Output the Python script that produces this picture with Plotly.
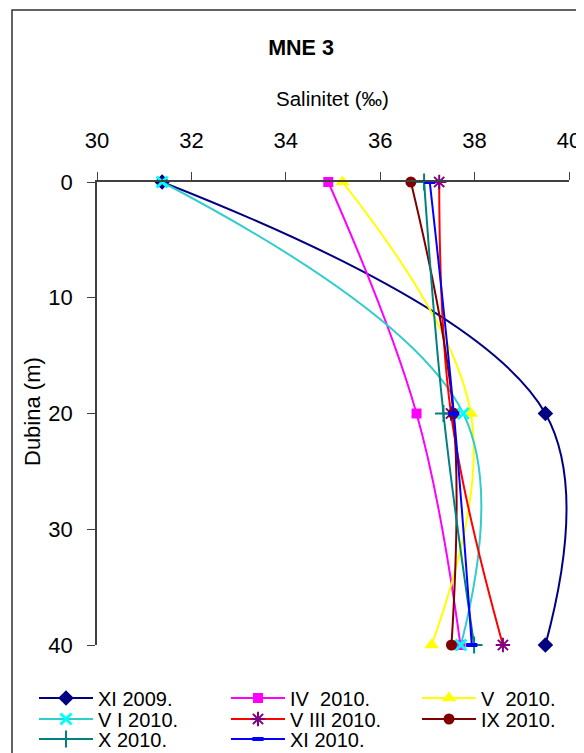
import plotly.graph_objects as go

depths = [0, 20, 40]

series_names = ["XI 2009.", "IV  2010.", "V  2010.", "V I 2010.", "V III 2010.", "IX 2010.", "X 2010.", "XI 2010."]
sal_xi_2009 = [31.38, 39.5, 39.5]
sal_iv_2010 = [34.9, 36.77, 37.7]
sal_v_2010 = [35.2, 37.92, 37.09]
sal_vi_2010 = [31.38, 37.76, 37.71]
sal_viii_2010 = [37.25, 37.5, 38.6]
sal_ix_2010 = [36.65, 37.55, 37.51]
sal_x_2010 = [36.93, 37.34, 37.99]
sal_xi_2010 = [37.05, 37.56, 37.94]

styles = [
    (sal_xi_2009, "#000080", dict(symbol="diamond", size=12, color="#000080")),
    (sal_iv_2010, "#FF00FF", dict(symbol="square", size=10, color="#FF00FF")),
    (sal_v_2010, "#FFFF00", dict(symbol="triangle-up", size=13, color="#FFFF00")),
    (sal_vi_2010, "#33CCCC", dict(symbol="x-thin", size=11, color="#00FFFF", line=dict(color="#00FFFF", width=3))),
    (sal_viii_2010, "#FF0000", dict(symbol="asterisk", size=12, color="#800080", line=dict(color="#800080", width=2))),
    (sal_ix_2010, "#800000", dict(symbol="circle", size=11, color="#800000")),
    (sal_x_2010, "#008080", dict(symbol="cross-thin", size=12, color="#008080", line=dict(color="#008080", width=2))),
    (sal_xi_2010, "#0000FF", dict(symbol="line-ew", size=8, color="#0000FF", line=dict(color="#0000FF", width=4))),
]

W, H = 584, 753
OFF = 8  # page body margin offset
# plot area target in window pixels: x 97..569, y 181.5..645
L = 97 - OFF
R = W - (569 - OFF)
T = round(181.5 - OFF)
B = H - (645 - OFF)
pw = W - L - R
ph = H - T - B

def px_x(p):
    return (p - OFF - L) / pw

def px_y(p):
    return (H - B - (p - OFF)) / ph

# legend grid: 3 columns, rows of 3/3/2
col_x = [34, 226, 417]
row_y = [698, 719, 739]

fig = go.Figure()
legends = {}
for i, (name, (vals, lc, mk)) in enumerate(zip(series_names, styles)):
    key = "legend" if i == 0 else f"legend{i + 1}"
    fig.add_trace(go.Scatter(
        x=vals, y=depths, name=name, mode="lines+markers",
        line=dict(color=lc, width=2, shape="spline", smoothing=1.1),
        marker=mk, cliponaxis=False, legend=key,
    ))
    r, c = divmod(i, 3)
    legends[key] = dict(
        orientation="h", x=px_x(col_x[c]), y=px_y(row_y[r]),
        xanchor="left", yanchor="middle", font=dict(size=20, color="black"),
        bgcolor="rgba(0,0,0,0)", itemwidth=54,
    )

fig.update_layout(
    width=W, height=H,
    margin=dict(l=L, r=R, t=T, b=B, autoexpand=False),
    paper_bgcolor="white", plot_bgcolor="white",
    font=dict(family="Liberation Sans, Arial, sans-serif", color="black", size=17),
    title=dict(text="<b>MNE 3</b>", x=(301 - OFF) / W, y=1 - (47 - OFF) / H,
               xanchor="center", yanchor="middle", font=dict(size=21.5)),
    xaxis=dict(side="top", range=[30, 40], dtick=2, tick0=30, ticks="outside", ticklen=8,
               tickcolor="#404040", showline=True, linecolor="#404040", linewidth=1.5,
               showgrid=False, zeroline=False, tickfont=dict(size=22), ticklabelstandoff=15),
    yaxis=dict(range=[40, 0], dtick=10, tick0=0, ticks="outside", ticklen=8,
               tickcolor="#404040", showline=True, linecolor="#404040", linewidth=1.5,
               showgrid=False, zeroline=False, tickfont=dict(size=22), ticklabelstandoff=10),
    annotations=[
        dict(text="Salinitet (‰)", xref="paper", yref="paper", x=px_x(332), y=px_y(98),
             xanchor="center", yanchor="middle", showarrow=False, font=dict(size=20.5)),
        dict(text="Dubina (m)", xref="paper", yref="paper", x=px_x(32), y=px_y(412),
             xanchor="center", yanchor="middle", showarrow=False, textangle=-90, font=dict(size=22)),
    ],
    shapes=[dict(type="rect", xref="paper", yref="paper",
                 x0=px_x(12), x1=px_x(600), y0=px_y(770), y1=px_y(10),
                 line=dict(color="#303030", width=1.5), layer="below")],
    showlegend=True,
    **legends,
)

fig.write_html("out.html")
